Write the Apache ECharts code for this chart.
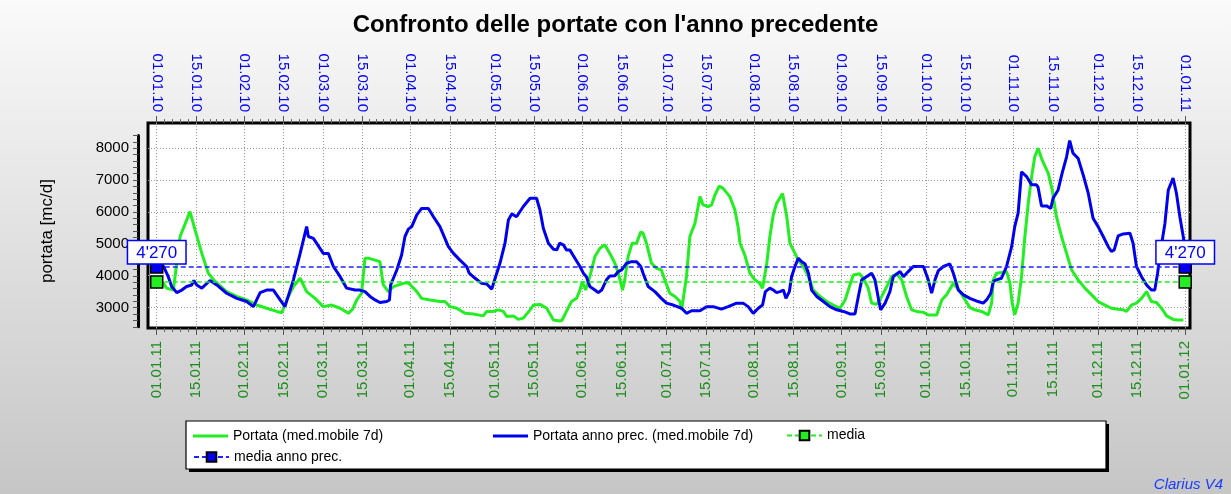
<!DOCTYPE html>
<html>
<head>
<meta charset="utf-8">
<script src="https://cdn.jsdelivr.net/npm/echarts@6/dist/echarts.min.js"></script>
<style>
  html, body { margin: 0; padding: 0; }
  #chart { width: 1231px; height: 494px; background: linear-gradient(#fafafa, #c6c6c6); }
</style>
</head>
<body>
<div id="chart"></div>
<script>
// giorni dall'inizio dell'anno per le etichette (1 e 15 di ogni mese)
const tickDays = [0, 14, 31, 45, 59, 73, 90, 104, 120, 134, 151, 165, 181, 195, 212, 226, 243, 257, 273, 287, 304, 318, 334, 348, 365]
const topLabels = ['01.01.10', '15.01.10', '01.02.10', '15.02.10', '01.03.10', '15.03.10', '01.04.10', '15.04.10', '01.05.10', '15.05.10', '01.06.10', '15.06.10', '01.07.10', '15.07.10', '01.08.10', '15.08.10', '01.09.10', '15.09.10', '01.10.10', '15.10.10', '01.11.10', '15.11.10', '01.12.10', '15.12.10', '01.01.11']
const bottomLabels = ['01.01.11', '15.01.11', '01.02.11', '15.02.11', '01.03.11', '15.03.11', '01.04.11', '15.04.11', '01.05.11', '15.05.11', '01.06.11', '15.06.11', '01.07.11', '15.07.11', '01.08.11', '15.08.11', '01.09.11', '15.09.11', '01.10.11', '15.10.11', '01.11.11', '15.11.11', '01.12.11', '15.12.11', '01.01.12']
const yTicks = [3000, 4000, 5000, 6000, 7000, 8000]

// Portata (med.mobile 7d) - anno 2011, [giorno, mc/d]
const portata = [
  [0, 3900], [2.4, 3760], [3.5, 3610], [5.9, 3550], [8.3, 5230], [11.8, 6010], [13.6, 5440], [16, 4700],
  [18.3, 4080], [20.7, 3820], [24.8, 3500], [28.4, 3350], [31.9, 3240], [35.5, 3080], [39, 2980], [42.6, 2880],
  [44.4, 2840], [46.1, 3240], [48.5, 3660], [50.9, 3920], [53.2, 3500], [56.2, 3290], [59.1, 3030], [62.1, 3080],
  [65.1, 2980], [68, 2820], [69.5, 2950], [71, 3240], [72.7, 3450], [73.9, 4550], [75.1, 4550], [79.2, 4440],
  [80.4, 3710], [82.2, 3500], [84, 3660], [87.5, 3760], [89.3, 3780], [92.3, 3500], [94, 3290], [97, 3240],
  [100.5, 3190], [102.3, 3190], [104.1, 3030], [106.5, 2980], [109.4, 2820], [112.4, 2800], [115.9, 2740], [117.1, 2880],
  [119.5, 2880], [121.2, 2930], [123, 2880], [124.2, 2720], [126.6, 2740], [128.3, 2630], [130.1, 2670], [132.5, 2930],
  [133.7, 3080], [136, 3100], [138.4, 2980], [140.8, 2610], [143.1, 2580], [143.9, 2610], [145.4, 2880], [147.2, 3190],
  [149, 3290], [150.2, 3550], [151, 3820], [152.2, 3550], [153.7, 3970], [155.5, 4600], [157.3, 4860], [159, 4970],
  [160.8, 4700], [162.6, 4390], [163.8, 4080], [165.3, 3550], [166.1, 3870], [167.3, 4600], [168.7, 5020], [170.3, 5020],
  [171.8, 5380], [172.6, 5330], [173.8, 5020], [175.6, 4390], [177.4, 4230], [179.1, 4180], [180.3, 3870], [182.1, 3450],
  [183.9, 3350], [185.7, 3190], [186.3, 2930], [188, 3970], [189.2, 5230], [191, 5640], [192.8, 6480], [193.9, 6220],
  [195.7, 6170], [196.9, 6220], [198.1, 6530], [199.6, 6810], [201, 6740], [203.4, 6480], [205.2, 6060], [206.4, 5490],
  [207, 5020], [208.7, 4650], [210.5, 4080], [212.3, 3870], [214, 3760], [215, 3610], [216.5, 4390], [217.6, 5230],
  [218.8, 5910], [220, 6270], [222.1, 6580], [223.6, 5850], [224.7, 5020], [225.9, 4810], [227.7, 4490], [229.5, 4290],
  [231.3, 3970], [233, 3550], [235.4, 3350], [237.8, 3190], [240.1, 3080], [242.5, 2980], [244.3, 3240], [246, 3710],
  [247.2, 4020], [249.4, 4060], [250.8, 3920], [252.5, 3610], [253.7, 3140], [255.5, 3100], [257.3, 3350], [259.1, 3660],
  [260.8, 3970], [262.6, 4060], [264.4, 3870], [266.1, 3350], [267.9, 2930], [269.7, 2880], [272.1, 2850], [273.8, 2770],
  [276.8, 2770], [278.6, 3240], [280.3, 3400], [282.7, 3760], [285.1, 3500], [286.9, 3240], [288.6, 3000], [290.3, 2930],
  [292.7, 2880], [295.1, 2770], [296.3, 3140], [296.9, 3870], [298, 4080], [299.8, 4100], [301.6, 4130], [302.8, 3760],
  [303.6, 3140], [304.5, 2770], [305.7, 3140], [306.9, 3970], [308.1, 5230], [309.3, 6270], [310.5, 7110], [311.6, 7730],
  [312.8, 8000], [314.2, 7630], [316.4, 7210], [317.8, 6690], [319.3, 5850], [321.1, 5230], [322.9, 4700], [324.7, 4180],
  [327, 3870], [329.4, 3610], [331.8, 3400], [334.1, 3190], [336.5, 3080], [338.8, 2980], [341.2, 2950], [343, 2930],
  [344.2, 2880], [345.9, 3080], [347.7, 3140], [349.5, 3290], [351.3, 3500], [353, 3190], [354.8, 3160], [356.6, 2980],
  [358.4, 2740], [360.7, 2630], [362.5, 2610], [364.3, 2610]
]

// Portata anno prec. (med.mobile 7d) - anno 2010
const portataPrec = [
  [0, 4450], [2.4, 4290], [4.1, 3970], [5.3, 3660], [7.1, 3470], [8.9, 3550], [10.6, 3660], [12.4, 3710],
  [13.2, 3850], [14.2, 3710], [16, 3610], [18.9, 3850], [21.3, 3710], [24.8, 3450], [28.4, 3290], [31.9, 3190],
  [34.3, 3030], [36.7, 3470], [39, 3550], [41.4, 3550], [43.8, 3240], [45.5, 3030], [46.1, 3080], [48.5, 3870],
  [50.9, 4700], [53.2, 5540], [53.8, 5230], [55.6, 5170], [59.1, 4700], [60.9, 4700], [62.7, 4290], [65.1, 3970],
  [67.4, 3610], [70.4, 3550], [72.1, 3550], [73.9, 3500], [75.7, 3350], [77.5, 3240], [79.2, 3160], [81.6, 3190],
  [82.6, 3240], [83, 3710], [85.2, 4180], [86.9, 4650], [88.1, 5230], [89.3, 5460], [90.5, 5540], [92.3, 5910],
  [94, 6110], [96.4, 6110], [98.2, 5850], [100.5, 5540], [103.5, 4910], [105.3, 4700], [107.6, 4490], [110, 4290],
  [110.9, 4080], [113, 3920], [115.3, 3760], [117.1, 3740], [118.9, 3580], [120.1, 3920], [121.8, 4390], [123.6, 5020],
  [124.8, 5750], [126, 5940], [127.7, 5850], [130.1, 6170], [132.5, 6430], [134.8, 6430], [136, 6060], [137.2, 5490],
  [139, 5020], [140.8, 4830], [142, 4810], [143, 5020], [144.3, 4970], [145.4, 4810], [146.6, 4810], [148.4, 4550],
  [150.2, 4290], [151.4, 4080], [152.5, 3970], [153.7, 3660], [155.5, 3550], [156.7, 3470], [157.9, 3550], [159.6, 3870],
  [160.8, 3990], [162.6, 4000], [163.8, 4130], [165, 4180], [166.7, 4390], [168.5, 4440], [170.3, 4440], [171.8, 4290],
  [172.6, 4080], [174.4, 3660], [176.8, 3500], [179.1, 3290], [180.9, 3140], [183.3, 3080], [186.3, 2980], [188, 2820],
  [189.8, 2900], [192.8, 2900], [195.1, 3030], [197.5, 3030], [200.4, 2950], [202.8, 3030], [205.8, 3140], [208.1, 3140],
  [209.9, 3030], [211.7, 2820], [213.5, 2980], [215, 3080], [216, 3500], [217.6, 3610], [218.8, 3550], [220, 3470],
  [221.2, 3500], [222.4, 3550], [223.3, 3290], [224.5, 3500], [225.3, 3970], [226.5, 4290], [227.7, 4550], [228.9, 4440],
  [230.1, 4370], [231.3, 4080], [232.4, 3550], [234.2, 3350], [236.6, 3190], [238.9, 3030], [241.3, 2930], [243.7, 2880],
  [246, 2800], [247.8, 2800], [249, 3350], [250.2, 3870], [251.9, 3970], [253.7, 4080], [254.9, 3870], [256.1, 3290],
  [256.9, 2930], [258.5, 3140], [260.2, 3500], [261.4, 3970], [263.8, 4130], [265, 3970], [266.7, 4130], [268.5, 4290],
  [272.1, 4290], [273.8, 3870], [275, 3450], [276.2, 3870], [277.4, 4160], [279.2, 4290], [281.5, 4370], [282.7, 4080],
  [284.5, 3550], [286.3, 3400], [288.6, 3290], [291.5, 3190], [293.3, 3140], [294.5, 3240], [296, 3450], [296.9, 3820],
  [298, 3870], [299.8, 3920], [301.6, 4290], [303.4, 4910], [304.5, 5540], [305.7, 5960], [306.9, 7260], [308.7, 7110],
  [310.5, 6850], [312.2, 6850], [312.8, 6770], [314, 6190], [315.8, 6190], [317.3, 6110], [318.1, 6430], [319.9, 6690],
  [321.3, 7210], [322.9, 7730], [324, 8240], [325.2, 7840], [327, 7680], [328.8, 7160], [330.6, 6580], [332.3, 5800],
  [334.1, 5540], [335.9, 5230], [337.7, 4910], [338.8, 4760], [339.8, 4810], [341.2, 5250], [343, 5310], [345.4, 5330],
  [346.5, 5020], [347.7, 4290], [349.5, 3970], [351.3, 3710], [353, 3550], [354.2, 3550], [355.2, 4080], [356.6, 4970],
  [357.8, 5640], [359, 6690], [360.7, 7060], [361.9, 6580], [363.1, 5850], [364.3, 5230], [365, 4810]
]

const media = 3800
const mediaPrec = 4270

const GREEN = '#22ee22'
const BLUE = '#0000ee'
const FONT = 'Liberation Sans, Arial, sans-serif'

// tacche secondarie tra le date
const minorDays = []
for (let i = 0; i < tickDays.length - 1; i++) {
  const a = tickDays[i], b = tickDays[i + 1]
  const n = Math.round((b - a) / 2.6)
  for (let k = 1; k < n; k++) minorDays.push(a + (b - a) * k / n)
}

const fmtNum = v => String(v).replace(/\B(?=(\d{3})+(?!\d))/g, "'")

const X_MIN = -3.1, X_MAX = 366.7
const plotRect = { left: 148, right: 41, top: 123, bottom: 166 }

const legendBase = {
  padding: 0, itemWidth: 35, itemHeight: 12, selectedMode: false,
  textStyle: { fontSize: 14, color: '#000', fontFamily: FONT }
}

const chart = echarts.init(document.getElementById('chart'))
const option = {
  animation: false,
  backgroundColor: 'transparent',
  textStyle: { fontFamily: FONT },
  title: [
    {
      text: "Confronto delle portate con l'anno precedente",
      left: 'center', top: 8,
      textStyle: { fontSize: 24, fontWeight: 'bold', color: '#000', fontFamily: FONT }
    },
    {
      text: 'Clarius V4',
      right: 8, bottom: 2, padding: 0,
      textStyle: { fontSize: 15, fontWeight: 'normal', fontStyle: 'italic', color: '#1a3cff', fontFamily: FONT }
    }
  ],
  graphic: [
    {
      type: 'rect', z: 0,
      shape: { x: 189, y: 424, width: 920, height: 48 },
      style: { fill: '#000' }
    },
    {
      type: 'rect', z: 1,
      shape: { x: 186, y: 421, width: 920, height: 48 },
      style: { fill: '#fff', stroke: '#000', lineWidth: 1.2 }
    }
  ],
  legend: [
    Object.assign({}, legendBase, {
      data: [{ name: 'Portata (med.mobile 7d)', icon: 'rect' }],
      left: 193, top: 429, itemHeight: 3, itemStyle: { color: GREEN }
    }),
    Object.assign({}, legendBase, {
      data: [{ name: 'Portata anno prec. (med.mobile 7d)', icon: 'rect' }],
      left: 493, top: 429, itemHeight: 3, itemStyle: { color: BLUE }
    }),
    Object.assign({}, legendBase, { data: ['media'], left: 786, top: 428.5 }),
    Object.assign({}, legendBase, { data: ['media anno prec.'], left: 193, top: 450 })
  ],
  grid: [
    Object.assign({ show: true, backgroundColor: '#fff', borderColor: '#000', borderWidth: 3 }, plotRect),
    { left: 148, right: 41, top: 135.4, bottom: 167.2 },
    Object.assign({}, plotRect)
  ],
  xAxis: [
    {
      type: 'value', gridIndex: 0, position: 'bottom', min: X_MIN, max: X_MAX,
      axisLine: { show: false },
      axisTick: { customValues: tickDays, length: 7, lineStyle: { color: '#555' } },
      axisLabel: {
        customValues: tickDays, rotate: 90, margin: 13, fontSize: 15, color: '#1a8c1a',
        formatter: v => bottomLabels[tickDays.indexOf(v)] || ''
      },
      splitLine: { show: true, lineStyle: { color: '#999', type: [1, 2] } }
    },
    {
      type: 'value', gridIndex: 0, position: 'top', min: X_MIN, max: X_MAX,
      axisLine: { show: false },
      axisTick: { customValues: tickDays, length: 7, lineStyle: { color: '#555' } },
      axisLabel: {
        customValues: tickDays, rotate: 90, margin: 11, fontSize: 15, color: '#0000ff',
        formatter: v => topLabels[tickDays.indexOf(v)] || ''
      },
      splitLine: { show: false }
    },
    { type: 'value', gridIndex: 1, min: X_MIN, max: X_MAX, show: false },
    {
      type: 'value', gridIndex: 2, position: 'bottom', min: X_MIN, max: X_MAX,
      axisLine: { show: false }, axisLabel: { show: false }, splitLine: { show: false },
      axisTick: { customValues: minorDays, length: 4, lineStyle: { color: '#666' } }
    },
    {
      type: 'value', gridIndex: 2, position: 'top', min: X_MIN, max: X_MAX,
      axisLine: { show: false }, axisLabel: { show: false }, splitLine: { show: false },
      axisTick: { customValues: minorDays, length: 4, lineStyle: { color: '#666' } }
    }
  ],
  yAxis: [
    {
      type: 'value', gridIndex: 0, min: 2360, max: 8790,
      axisLine: { show: false, onZero: false },
      axisTick: { show: false, customValues: yTicks },
      axisLabel: { show: false, customValues: yTicks },
      splitLine: { show: true, lineStyle: { color: '#999', type: [1, 2] } }
    },
    {
      type: 'value', gridIndex: 1, position: 'left', min: 2400, max: 8400, interval: 200, offset: 10,
      name: 'portata [mc/d]', nameLocation: 'middle', nameGap: 82,
      nameTextStyle: { fontSize: 17, color: '#000', fontFamily: FONT },
      axisLine: { show: true, onZero: false, lineStyle: { color: '#000', width: 3 } },
      axisTick: { length: 5, lineStyle: { color: '#555' } },
      axisLabel: { customValues: yTicks, margin: 9, fontSize: 15, color: '#000', formatter: v => String(v) },
      splitLine: { show: false }
    },
    { type: 'value', gridIndex: 2, min: 2360, max: 8790, show: false }
  ],
  series: [
    {
      name: 'Portata (med.mobile 7d)', type: 'line', data: portata,
      symbol: 'none', lineStyle: { color: GREEN, width: 3 }, itemStyle: { color: GREEN }
    },
    {
      name: 'Portata anno prec. (med.mobile 7d)', type: 'line', data: portataPrec,
      symbol: 'none', lineStyle: { color: BLUE, width: 3 }, itemStyle: { color: BLUE }
    },
    {
      name: 'media', type: 'line', data: [[0, media], [365, media]],
      symbol: 'rect', symbolSize: 12,
      lineStyle: { color: GREEN, width: 1.5, type: [5, 3] },
      itemStyle: { color: GREEN, borderColor: '#000', borderWidth: 1.5 }
    },
    {
      name: 'media anno prec.', type: 'line', data: [[0, mediaPrec], [365, mediaPrec]],
      symbol: 'rect', symbolSize: 12,
      lineStyle: { color: '#2222ff', width: 1.5, type: [5, 3] },
      itemStyle: { color: BLUE, borderColor: '#000', borderWidth: 1.5 },
      label: {
        show: true, position: 'top', distance: -3,
        formatter: p => fmtNum(p.value[1]),
        fontSize: 17, color: '#0000ff', backgroundColor: '#fff',
        borderColor: '#0000ff', borderWidth: 1.5, padding: [3, 8, 2, 8]
      }
    }
  ]
}
chart.setOption(option)
</script>
</body>
</html>
